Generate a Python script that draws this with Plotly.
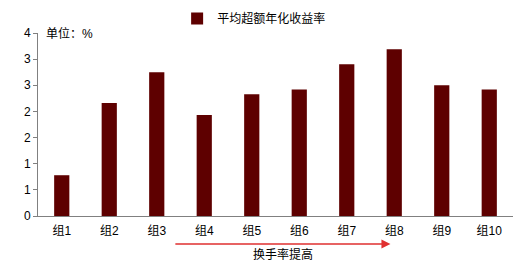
import plotly.graph_objects as go

categories = ["组1", "组2", "组3", "组4", "组5", "组6", "组7", "组8", "组9", "组10"]
values = [0.78, 2.16, 2.75, 1.93, 2.33, 2.42, 2.90, 3.19, 2.50, 2.42]
y_tickvals = [0, 0.5, 1, 1.5, 2, 2.5, 3, 3.5]
y_ticktext = ["0", "1", "1", "2", "2", "3", "3", "4"]
series_name = "平均超额年化收益率"

FONT = "Liberation Sans, Noto Sans CJK SC, sans-serif"
xpos = list(range(len(categories)))

fig = go.Figure()
fig.add_trace(go.Bar(
    x=xpos, y=values, name=series_name,
    marker=dict(color="#5E0000", line=dict(width=0)),
    width=0.32,
))

fig.update_layout(
    width=530, height=265,
    margin=dict(l=38, r=17, t=33, b=49, autoexpand=False),
    plot_bgcolor="white", paper_bgcolor="white",
    font=dict(family=FONT, size=12, color="black"),
    showlegend=True,
    legend=dict(orientation="h", x=0.455, xanchor="center", y=0.985, yanchor="top",
                yref="container", font=dict(size=12), itemwidth=30,
                bgcolor="rgba(0,0,0,0)"),
    bargap=0.68,
)

fig.update_xaxes(
    range=[-0.5, 9.5], tickvals=xpos, ticktext=categories,
    showline=True, linecolor="#808080", linewidth=1,
    ticks="", showgrid=False, zeroline=False,
    tickfont=dict(size=12, color="black"),
    ticklabelstandoff=4,
)
fig.update_yaxes(
    range=[0, 3.5], tickvals=y_tickvals, ticktext=y_ticktext,
    showline=True, linecolor="#808080", linewidth=1,
    ticks="outside", ticklen=4, tickcolor="#808080",
    showgrid=False, zeroline=False,
    tickfont=dict(size=12, color="black"),
)

fig.add_annotation(
    text="单位：%", x=0.012, y=1.0, xref="paper", yref="paper",
    xanchor="left", yanchor="middle", showarrow=False,
    font=dict(size=12, color="black"),
)

# arrow below x axis
fig.add_annotation(
    x=6.92, y=-0.153, xref="x", yref="paper",
    ax=2.36, ay=0, axref="x", ayref="pixel",
    showarrow=True, arrowhead=2, arrowsize=1.2, arrowwidth=1.5,
    arrowcolor="#E03030", text="",
)
fig.add_annotation(
    text="换手率提高", x=4.65, y=-0.21, xref="x", yref="paper",
    xanchor="center", yanchor="middle", showarrow=False,
    font=dict(size=12, color="black"),
)

fig.write_html("out.html")
